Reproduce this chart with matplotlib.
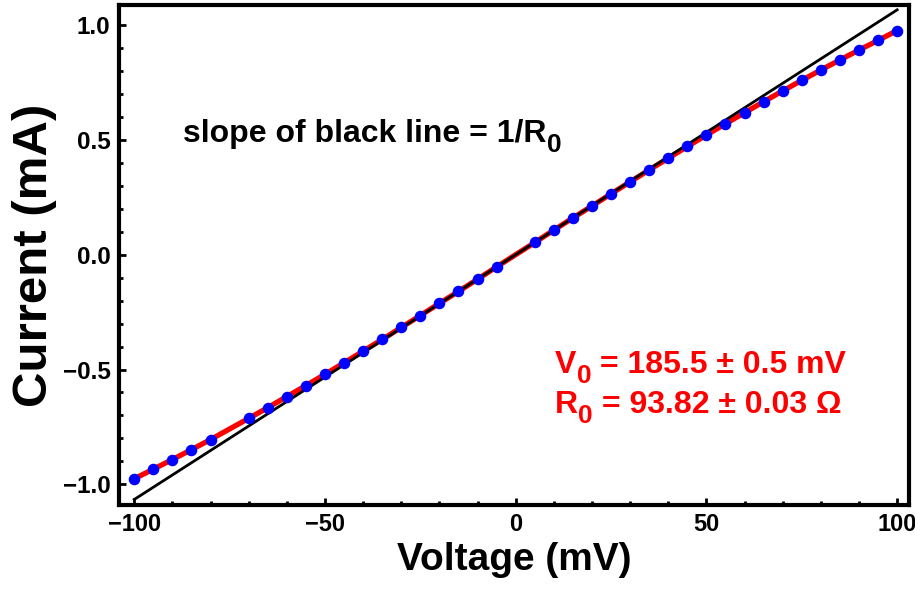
import matplotlib
matplotlib.use("Agg")
import matplotlib.pyplot as plt
from matplotlib.ticker import MultipleLocator

plt.rcParams['font.family'] = ['Liberation Sans', 'DejaVu Sans']
plt.rcParams['font.weight'] = 'bold'

# measured points (mV, mA); -75 and 0 were not measured
voltage = [-100, -95, -90, -85, -80, -70, -65, -60, -55, -50, -45, -40, -35,
           -30, -25, -20, -15, -10, -5, 5, 10, 15, 20, 25, 30, 35, 40, 45,
           50, 55, 60, 65, 70, 75, 80, 85, 90, 95, 100]
current = [-0.976, -0.934, -0.892, -0.849, -0.805, -0.713, -0.666, -0.618,
           -0.570, -0.521, -0.471, -0.420, -0.369, -0.317, -0.265, -0.212,
           -0.160, -0.107, -0.053, 0.053, 0.107, 0.160, 0.212, 0.265, 0.317,
           0.369, 0.420, 0.471, 0.521, 0.570, 0.618, 0.666, 0.713, 0.759,
           0.804, 0.848, 0.891, 0.933, 0.976]

# straight line with slope 1/R0
line_v = [-100, 100]
line_i = [-1.066, 1.066]

xticks = [-100, -50, 0, 50, 100]
yticks = [-1.0, -0.5, 0.0, 0.5, 1.0]

fig = plt.figure(figsize=(9.15, 5.91), dpi=100)
ax = fig.add_axes([0.130, 0.1455, 0.863, 0.846])

ax.plot(voltage, current, color='red', lw=3.8, zorder=2, solid_capstyle='butt')
ax.plot(line_v, line_i, color='black', lw=2.0, zorder=3)
ax.plot(voltage, current, 'o', color='blue', ms=7.3, mec='blue', zorder=4)

ax.set_xlim(-104, 103)
ax.set_ylim(-1.09, 1.087)
ax.set_xticks(xticks)
ax.set_yticks(yticks)
ax.set_xticklabels([str(t).replace('-', '\u2212') for t in xticks])
ax.set_yticklabels([f"{t:.1f}".replace('-', '\u2212') for t in yticks])
ax.xaxis.set_minor_locator(MultipleLocator(10))
ax.yaxis.set_minor_locator(MultipleLocator(0.1))
ax.tick_params(which='both', direction='in', top=False, right=False, width=2)
ax.tick_params(axis='x', labelsize=17)
ax.tick_params(axis='y', labelsize=17.5)
ax.tick_params(which='major', length=5, pad=6)
ax.tick_params(which='minor', length=3)
for s in ax.spines.values():
    s.set_linewidth(3)

ax.set_xlabel("Voltage (mV)", fontsize=28, fontweight='bold', labelpad=4)
ax.set_ylabel("Current (mA)", fontsize=35.5, fontweight='bold', labelpad=4)


def sub_text(x, y, main, sub, rest, color, size):
    t1 = ax.text(x, y, main, color=color, fontsize=size, fontweight='bold',
                 ha='left', va='baseline')
    t2 = ax.annotate(sub, xy=(1, 0), xycoords=t1, xytext=(0.5, -6),
                     textcoords='offset points', color=color,
                     fontsize=size * 0.82, fontweight='bold',
                     ha='left', va='bottom')
    if rest:
        ax.annotate(rest, xy=(1, 0), xycoords=(t2, t1), color=color,
                    fontsize=size, fontweight='bold', ha='left', va='bottom')


sub_text(-87.2, 0.49, "slope of black line = 1/R", "0", "", 'black', 23)
sub_text(10.2, -0.515, "V", "0", " = 185.5 \u00b1 0.5 mV", 'red', 23)
sub_text(10.2, -0.688, "R", "0", " = 93.82 \u00b1 0.03 \u03a9", 'red', 23)

fig.savefig("out.png", dpi=100)
